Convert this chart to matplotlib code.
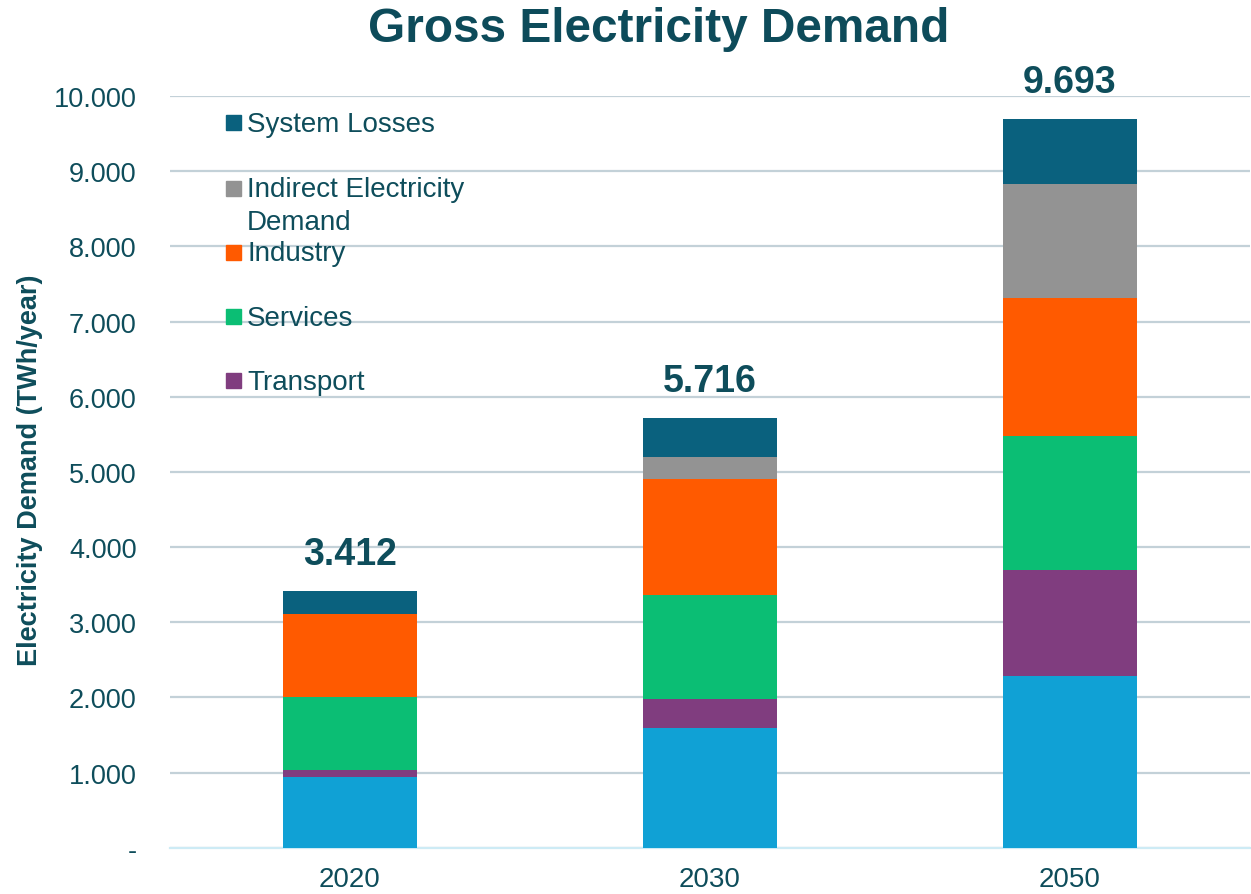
import matplotlib
matplotlib.use("Agg")
import matplotlib.pyplot as plt
from matplotlib.ticker import FuncFormatter

plt.rcParams['font.family'] = ['Liberation Sans', 'DejaVu Sans']

years = ["2020", "2030", "2050"]
# TWh/year per sector, stacked bottom to top
buildings = [945, 1590, 2280]
transport = [90, 386, 1416]
services = [970, 1385, 1779]
industry = [1103, 1539, 1839]
indirect = [0, 302, 1509]
losses = [304, 514, 870]
totals = [3412, 5716, 9693]

layers = [
    ("Buildings", buildings, "#10A1D5"),
    ("Transport", transport, "#803D7F"),
    ("Services", services, "#0BBE74"),
    ("Industry", industry, "#FF5A00"),
    ("Indirect Electricity\nDemand", indirect, "#939393"),
    ("System Losses", losses, "#0A617E"),
]

text_col = "#0E4D5B"

fig = plt.figure(figsize=(12.51, 8.95), dpi=100)
ax = fig.add_axes([170/1251, 46.3/895, 1080/1251, 751.7/895])

x = list(range(len(years)))
bottom = [0] * len(years)
for name, vals, col in layers:
    ax.bar(x, vals, width=0.372, bottom=bottom, color=col, edgecolor="none", zorder=3)
    bottom = [b + v for b, v in zip(bottom, vals)]

for xi, t in zip(x, totals):
    ax.annotate(f"{t:,}".replace(",", "."), (xi, t), xytext=(0, 19.5),
                textcoords="offset points", ha="center", va="baseline",
                fontsize=27, fontweight="bold", color=text_col)

ax.set_xlim(-0.5, 2.5)
ax.set_ylim(0, 10000)
ax.set_yticks(range(0, 10001, 1000))
ax.yaxis.set_major_formatter(FuncFormatter(
    lambda v, p: "-" if v == 0 else f"{v:,.0f}".replace(",", ".")))
ax.set_xticks(x)
ax.set_xticklabels(years)
ax.tick_params(axis="y", length=0, pad=24, labelsize=19.5, labelcolor=text_col)
ax.tick_params(axis="x", length=0, pad=13, labelsize=20, labelcolor=text_col)

ax.yaxis.grid(True, color="#C3D1D8", linewidth=1.6, zorder=0)
ax.set_axisbelow(True)
for s in ["top", "right", "left"]:
    ax.spines[s].set_visible(False)
ax.spines["bottom"].set_color("#CDEBF5")
ax.spines["bottom"].set_linewidth(1.6)

# legend drawn by hand, top entry first
legend_rows = [
    ("System Losses", "#0A617E", 123.3),
    ("Indirect Electricity\nDemand", "#939393", 188.7),
    ("Industry", "#FF5A00", 252.8),
    ("Services", "#0BBE74", 317.2),
    ("Transport", "#803D7F", 381.3),
]
for label, col, ypx in legend_rows:
    yy = (848.7 - ypx) / 751.7
    ax.plot([0.0579], [yy], marker="s", markersize=10.8, color=col,
            transform=ax.transAxes, clip_on=False, linestyle="none")
    for i, line in enumerate(label.split("\n")):
        ax.text(0.0713, (848.7 - ypx - 8.5 - 33 * i) / 751.7, line,
                transform=ax.transAxes, ha="left", va="baseline",
                fontsize=20, color=text_col)

fig.text(659/1251, 1 - 41.7/895, "Gross Electricity Demand", ha="center",
         va="baseline", fontsize=34.4, fontweight="bold", color="#0D4B5A")
fig.text(30/1251, 1 - 470/895, "Electricity Demand (TWh/year)", rotation=90,
         ha="center", va="center", fontsize=19.5, fontweight="bold", color=text_col)

fig.savefig("out.png", dpi=100)
